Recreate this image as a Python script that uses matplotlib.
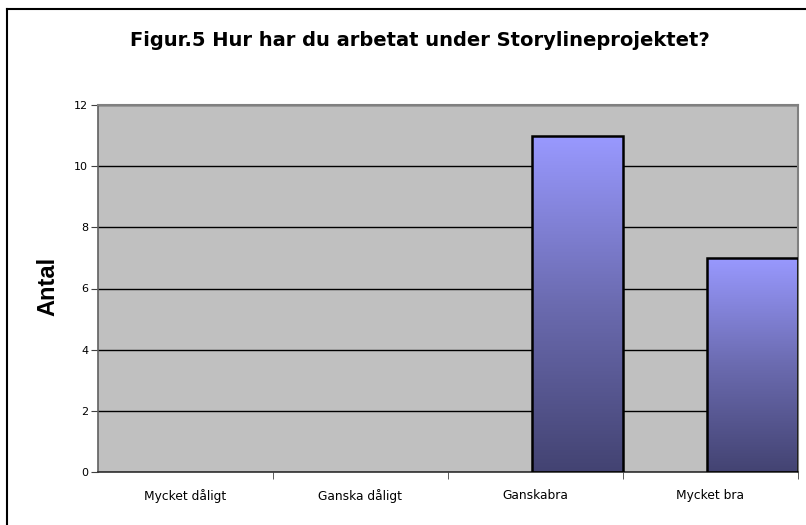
import matplotlib
matplotlib.use("Agg")
import matplotlib.pyplot as plt
import numpy as np
from matplotlib.colors import LinearSegmentedColormap
from matplotlib.lines import Line2D

categories = ["Mycket dåligt", "Ganska dåligt", "Ganskabra", "Mycket bra"]
values = [0, 0, 11, 7]
yticks = [0, 2, 4, 6, 8, 10, 12]
title = "Figur.5 Hur har du arbetat under Storylineprojektet?"
ylabel = "Antal"

plt.rcParams['font.family'] = ['DejaVu Sans']

fig = plt.figure(figsize=(8.06, 5.25), dpi=100)
ax = fig.add_axes([98/806, 53/525, 700/806, 367/525])
ax.set_facecolor("#C0C0C0")

x = np.arange(len(categories))
offset = 0.24
width = 0.515
bars = ax.bar(x + offset, values, width=width, color="none", edgecolor="black",
              linewidth=[1.8 if v > 0 else 0 for v in values], zorder=3)

cmap = LinearSegmentedColormap.from_list("g", ["#434372", "#6B6BB0", "#9999FF"])
grad = np.linspace(0, 1, 256).reshape(-1, 1)
for b, v in zip(bars, values):
    if v <= 0:
        continue
    x0 = b.get_x()
    im = ax.imshow(grad, extent=[x0, x0 + b.get_width(), 0, v], origin="lower",
                   cmap=cmap, aspect="auto", zorder=2)
    im.set_clip_path(b)

ax.set_xlim(-0.5, len(categories) - 0.5)
ax.set_ylim(0, 12)
ax.set_yticks(yticks)
ax.set_yticklabels([str(t) for t in yticks], fontsize=8)
ax.yaxis.grid(True, color="black", linewidth=1.0, zorder=1)
ax.set_axisbelow(True)

ax.set_xticks(x)
ax.set_xticklabels(categories, fontsize=8.8)
ax.tick_params(axis="x", which="major", length=0, pad=12)
ax.set_xticks(x + 0.5, minor=True)
ax.tick_params(axis="x", which="minor", length=5, direction="out", color="#404040")
ax.tick_params(axis="y", length=5, direction="out", pad=2, color="#404040")

for s in ["top", "right"]:
    ax.spines[s].set_color("#808080")
    ax.spines[s].set_linewidth(1.5)
ax.spines["left"].set_color("#606060")
ax.spines["bottom"].set_color("#303030")
ax.spines["left"].set_linewidth(1.2)
ax.spines["bottom"].set_linewidth(1.2)

ax.set_ylabel(ylabel, fontsize=17, fontweight="bold", family=["Liberation Sans", "DejaVu Sans"])
ax.yaxis.set_label_coords((59 - 98) / 700, 0.505)

fig.text(420/806, 1 - 40/525, title, fontsize=14, fontweight="bold",
         ha="center", va="center")

fig.add_artist(Line2D([7/806, 1.0], [1 - 9/525, 1 - 9/525], transform=fig.transFigure,
                      color="black", linewidth=1.5))
fig.add_artist(Line2D([7/806, 7/806], [1 - 9/525, 0], transform=fig.transFigure,
                      color="black", linewidth=1.5))

fig.savefig("out.png", dpi=100)
